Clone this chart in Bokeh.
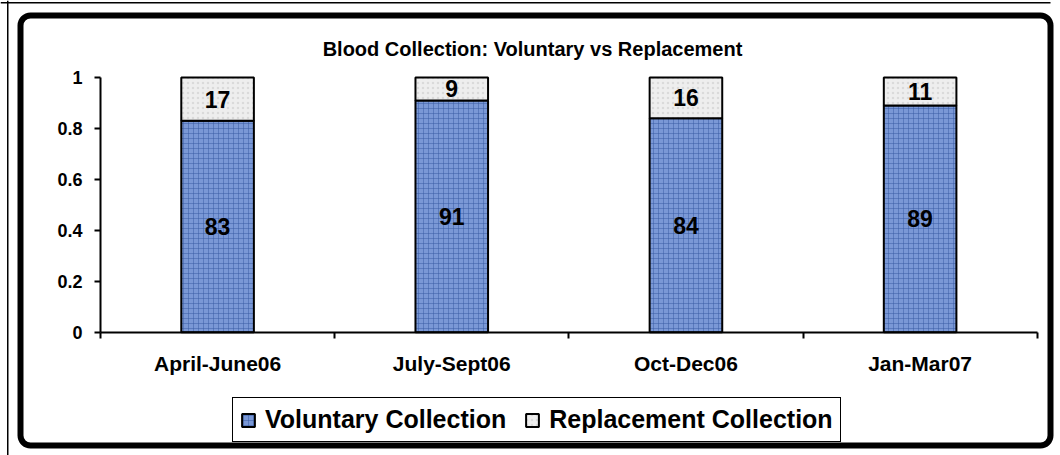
from bokeh.plotting import figure
from bokeh.models import (Range1d, LinearAxis, FixedTicker, Label,
                          Legend, LegendItem, BoxAnnotation, ColumnDataSource)
from bokeh.core.properties import value
from bokeh.embed import file_html
from bokeh.resources import INLINE

# ---- data ----
title = "Blood Collection: Voluntary vs Replacement"
categories = ["April-June06", "July-Sept06", "Oct-Dec06", "Jan-Mar07"]
voluntary = [0.83, 0.91, 0.84, 0.89]
replacement = [0.17, 0.09, 0.16, 0.11]
series_names = ["Voluntary Collection", "Replacement Collection"]
y_ticks = [0, 0.2, 0.4, 0.6, 0.8, 1]
y_tick_labels = ["0", "0.2", "0.4", "0.6", "0.8", "1"]

FONT = "Liberation Sans"
W, H = 1060, 455
# pixel placement of the plotting area (layout only)
PX_LEFT, PX_RIGHT = 100.0, 1036.7    # x of first / last category boundary
PX_TOP, PX_BOTTOM = 77.0, 331.7      # y of value 1 / value 0

n = len(categories)
centres = [i + 0.5 for i in range(n)]   # category slot centres on the x scale

sx = (PX_RIGHT - PX_LEFT) / n
sy = (PX_BOTTOM - PX_TOP) / 1.0
x_range = Range1d(0 - PX_LEFT / sx, n + (W - PX_RIGHT) / sx)
y_range = Range1d(0 - (H - PX_BOTTOM) / sy, 1 + PX_TOP / sy)

src = ColumnDataSource(dict(
    cat=categories,
    xc=centres,
    vol=voluntary,
    top_all=[v + r for v, r in zip(voluntary, replacement)],
    vol_mid=[v / 2 for v in voluntary],
    rep_mid=[v + r / 2 for v, r in zip(voluntary, replacement)],
    vol_lab=[str(round(v * 100)) for v in voluntary],
    rep_lab=[str(round(r * 100)) for r in replacement],
))

p = figure(width=W, height=H, output_backend="svg", toolbar_location=None,
           x_range=x_range, y_range=y_range,
           x_axis_location=None, y_axis_location=None,
           min_border=0, min_border_left=0, min_border_right=0,
           min_border_top=0, min_border_bottom=0,
           background_fill_color="white", border_fill_color="white")
p.outline_line_color = None
for g in p.grid:
    g.visible = False
p.xgrid.grid_line_color = None
p.ygrid.grid_line_color = None

# y axis (fixed at x = 0)
ya = LinearAxis(fixed_location=0, bounds=(0, 1),
                ticker=FixedTicker(ticks=y_ticks, minor_ticks=[]),
                major_label_overrides={t: l for t, l in zip(y_ticks, y_tick_labels)})
ya.axis_line_color = "black"
ya.axis_line_width = 2
ya.major_tick_line_color = "black"
ya.major_tick_line_width = 2
ya.major_tick_out = 6
ya.major_tick_in = 0
ya.minor_tick_line_color = None
ya.major_label_standoff = 12
ya.major_label_text_font = FONT
ya.major_label_text_font_style = "bold"
ya.major_label_text_font_size = "18px"
ya.major_label_text_color = "black"
p.add_layout(ya, "left")

# x axis (fixed at y = 0): ticks at category boundaries, labels at centres
xa = LinearAxis(fixed_location=0, bounds=(0, n),
                ticker=FixedTicker(ticks=centres, minor_ticks=list(range(n + 1))),
                major_label_overrides={c: cat for c, cat in zip(centres, categories)})
xa.axis_line_color = "black"
xa.axis_line_width = 2
xa.major_tick_line_color = None
xa.major_tick_out = 0
xa.major_tick_in = 0
xa.minor_tick_line_color = "black"
xa.minor_tick_line_width = 2
xa.minor_tick_out = 6
xa.minor_tick_in = 0
xa.major_label_standoff = 14
xa.major_label_text_font = FONT
xa.major_label_text_font_style = "bold"
xa.major_label_text_font_size = "21px"
xa.major_label_text_color = "black"
p.add_layout(xa, "below")

# bars
bw = 0.31
r_vol = p.vbar(x="xc", bottom=0, top="vol", width=bw, source=src,
               fill_color="#7a98d6", line_color="black", line_width=2,
               hatch_pattern="cross", hatch_color="#3a5ca4", hatch_alpha=0.5,
               hatch_scale=5, hatch_weight=1)
r_rep = p.vbar(x="xc", bottom="vol", top="top_all", width=bw, source=src,
               fill_color="#eeeeee", line_color="black", line_width=2,
               hatch_pattern="dot", hatch_color="#d4d4d4", hatch_alpha=0.8,
               hatch_scale=5, hatch_weight=1)

# data labels
for ycol, tcol in (("vol_mid", "vol_lab"), ("rep_mid", "rep_lab")):
    p.text(x="xc", y=ycol, text=tcol, source=src, text_align="center",
           text_baseline="middle", text_font=value(FONT), text_font_style="bold",
           text_font_size="23px", text_color="black")

# legend (bottom-left corner given in screen px from the bottom-left)
legend = Legend(items=[LegendItem(label=series_names[0], renderers=[r_vol]),
                       LegendItem(label=series_names[1], renderers=[r_rep])],
                orientation="horizontal", location=(232, H - 442), margin=0,
                padding=7, spacing=18, label_standoff=9,
                glyph_width=16, glyph_height=16,
                label_text_font=FONT, label_text_font_style="bold",
                label_text_font_size="25px", label_text_color="black",
                border_line_color="black", border_line_width=1.5,
                border_line_alpha=1,
                background_fill_color="white", background_fill_alpha=1)
p.add_layout(legend)

# title
p.add_layout(Label(x=532, y=H - 48, x_units="screen", y_units="screen", text=title,
                   text_align="center", text_baseline="alphabetic",
                   text_font=FONT, text_font_style="bold", text_font_size="20px",
                   text_color="black"))

# chart border (rounded, thick) and thin outer lines
p.add_layout(BoxAnnotation(left=20, right=1050, bottom=H - 445, top=H - 15,
                           left_units="screen", right_units="screen",
                           top_units="screen", bottom_units="screen",
                           fill_alpha=0, line_color="black", line_alpha=1,
                           line_width=6, border_radius=10, level="overlay"))
p.add_layout(BoxAnnotation(left=6.5, right=8, bottom=0, top=H,
                           left_units="screen", right_units="screen",
                           top_units="screen", bottom_units="screen",
                           fill_color="black", fill_alpha=1, line_color=None,
                           level="overlay"))
p.add_layout(BoxAnnotation(left=0, right=1050, bottom=H - 3, top=H - 1.5,
                           left_units="screen", right_units="screen",
                           top_units="screen", bottom_units="screen",
                           fill_color="black", fill_alpha=1, line_color=None,
                           level="overlay"))

open("out.html", "w").write(file_html(p, INLINE))
